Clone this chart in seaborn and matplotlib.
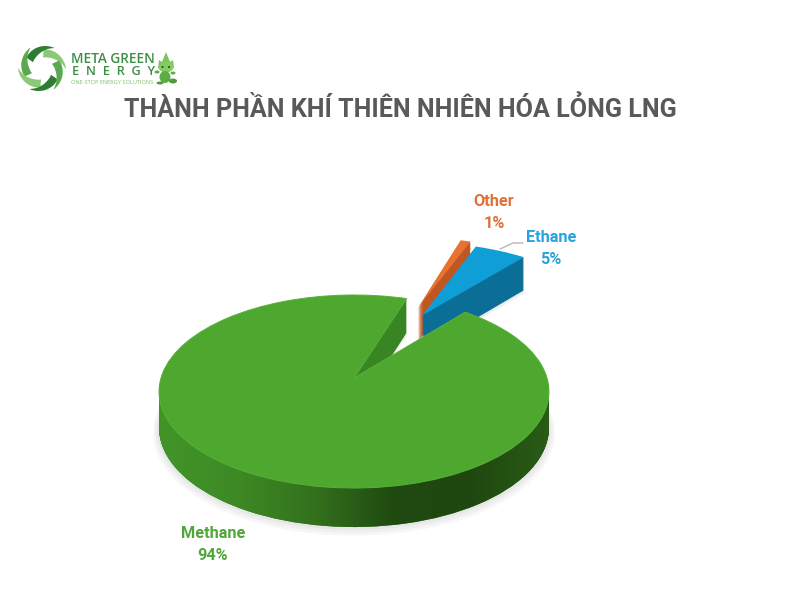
import numpy as np
import matplotlib
matplotlib.use('Agg')
import matplotlib.pyplot as plt
from matplotlib.colors import LinearSegmentedColormap
from matplotlib.patches import Ellipse, Polygon
from matplotlib.path import Path
from matplotlib.transforms import Transform
import seaborn as sns

categories = ['Methane', 'Ethane', 'Other']
shares = [94, 5, 1]
slice_labels = ['94%', '5%', '1%']
title = 'THÀNH PHẦN KHÍ THIÊN NHIÊN HÓA LỎNG LNG'

top_colors = sns.color_palette(['#4ea72e', '#0f9ed5', '#e97132'])
side_colors = sns.color_palette(['#3a8523', '#0b6e96', '#bf5723'])
label_colors = ['#4fa63a', '#2aa3dc', '#e0703a']
rim_colors = ['#429429', '#3d8a25', '#33701c', '#1f4a10', '#1f4810', '#2a5c16']

# the pie is turned a bit so the gap of the small slices sits top right
START_ANGLE = 72
# how far every slice is pulled out of the pie, in radii (x, y)
SLICE_SHIFT = [(0, 0), (0.39, 0.73), (0.37, 0.83)]
# pulled out slices look a bit bigger in the original
SLICE_GROW = [1.0, 1.07, 1.05]
DEPTH_LAYERS = 40


class PiePerspective(Transform):
    """Unit circle pie -> tilted disc in pixel coordinates, drop=1 is the bottom side."""
    input_dims = 2
    output_dims = 2

    def __init__(self, drop=0.0, shift=(0, 0), grow=1.0):
        super().__init__()
        self.drop = drop
        self.shift = shift
        self.grow = grow

    def transform_non_affine(self, values):
        u = values[:, 0] * self.grow + self.shift[0]
        v = values[:, 1] * self.grow + self.shift[1]
        w = 1 + 0.14 * v
        x = 354 + 193 * u / w
        y = (378 - 41.7 * v) / w
        y = y + self.drop * (33 + 0.026 * (y - 257))
        return np.column_stack([x, y])


def draw_layer(ax, colors, drop, only=None, zorder=2, grow=1.0, alpha=None, edge=None):
    # seaborn styles force a white patch edge, that would wipe out the stacked layers
    wedges, _ = ax.pie(shares, colors=colors, startangle=START_ANGLE, counterclock=True,
                       wedgeprops={'linewidth': 0, 'edgecolor': 'none'})
    for i, wedge in enumerate(wedges):
        if only is not None and i not in only:
            wedge.remove()
            continue
        transform = PiePerspective(drop, SLICE_SHIFT[i], grow * SLICE_GROW[i])
        wedge.set_transform(transform + ax.transData)
        wedge.set_clip_on(False)
        wedge.set_zorder(zorder)
        if alpha is not None:
            wedge.set_alpha(alpha)
        if edge is not None:
            wedge.set_edgecolor(edge)
            wedge.set_linewidth(0.7)
    return wedges


def draw_logo(ax):
    # swirl of six blades
    cx, cy = 42, 68.5
    blade_colors = ['#8cc976', '#2f7d32', '#5aa850', '#8cc976', '#2f7d32', '#5aa850']
    for k, color in enumerate(blade_colors):
        a = -np.radians(np.linspace(0, 85, 30)) - k * np.pi / 3
        outer = np.linspace(24, 19, 30)
        inner = np.linspace(23.5, 11, 30) - np.sin(np.linspace(0, np.pi, 30)) * 2.5
        xs = np.concatenate([cx + outer * np.cos(a), (cx + inner * np.cos(a))[::-1]])
        ys = np.concatenate([cy + outer * np.sin(a), (cy + inner * np.sin(a))[::-1]])
        ax.add_patch(Polygon(np.column_stack([xs, ys]), color=color, lw=0, zorder=5))
    ax.text(71, 59, 'META GREEN', fontsize=9.8, color='#3d8f45', family='Open Sans',
            weight='semibold', va='center', ha='left', zorder=5)
    ax.text(72, 71.5, 'E  N  E  R  G  Y', fontsize=9.2, color='#3d8f45', family='Open Sans',
            weight='semibold', va='center', ha='left', zorder=5)
    ax.text(71, 82, 'ONE-STOP ENERGY SOLUTIONS', fontsize=4.1, color='#7fbf6a', family='Open Sans',
            va='center', ha='left', zorder=5)
    # little dragon
    ax.add_patch(Polygon([(158, 68), (159, 60), (162, 62), (166, 52), (170, 62), (173, 60), (174, 68)],
                         color='#7cc35c', lw=0, zorder=5))
    for x, y, w, h, color in [(166, 67, 15, 11, '#86cc66'), (165, 77, 11, 12, '#5eab45'),
                              (173, 81, 8, 5, '#4f9c3c'), (160, 83, 7, 3, '#4f9c3c'),
                              (157, 72, 5, 3, '#5eab45'), (173, 73, 5, 3, '#5eab45')]:
        ax.add_patch(Ellipse((x, y), w, h, color=color, lw=0, zorder=5))
    ax.add_patch(Ellipse((162.5, 67), 2, 2, color='#1f4a10', lw=0, zorder=6))
    ax.add_patch(Ellipse((169, 67), 2, 2, color='#1f4a10', lw=0, zorder=6))


def main() -> None:
    sns.set_theme(style='white')
    plt.rcParams['font.family'] = ['Roboto', 'DejaVu Sans']

    fig = plt.figure(figsize=(8, 6), dpi=100)
    ax = fig.add_axes([0, 0, 1, 1])

    # soft shadow on the floor
    for grow, drop in [(1.03, 1.12), (1.02, 1.08), (1.01, 1.04)]:
        draw_layer(ax, ['#000000'] * 3, drop, only=[0, 1], zorder=1, grow=grow, alpha=0.03)

    # the sides: the slices stacked from the bottom up, far slices first
    base = 2
    for i in [2, 1, 0]:
        for k in range(DEPTH_LAYERS, 0, -1):
            draw_layer(ax, side_colors, k / DEPTH_LAYERS, only=[i], zorder=base + 3 * (2 - i))
        if i == 0:
            # rim shading of the big slice, left to right
            rim = []
            for k in range(DEPTH_LAYERS + 1):
                probe = draw_layer(ax, side_colors, k / DEPTH_LAYERS, only=[0], zorder=0)[0]
                rim.append(probe.get_path().transformed(probe.get_patch_transform()).transformed(
                    PiePerspective(k / DEPTH_LAYERS, SLICE_SHIFT[0])))
                probe.remove()
            cmap = LinearSegmentedColormap.from_list('rim', rim_colors)
            image = ax.imshow(np.linspace(0, 1, 256)[None, :], cmap=cmap, aspect='auto',
                              extent=[159, 550, 540, 392], zorder=base + 3 * (2 - i) + 0.5)
            image.set_clip_path(Path.make_compound_path(*rim), ax.transData)
        draw_layer(ax, top_colors, 0, only=[i], zorder=base + 3 * (2 - i) + 1,
                   edge='#58b236' if i == 0 else None)

    ax.set_aspect('auto')
    ax.set_xlim(0, 800)
    ax.set_ylim(600, 0)
    ax.axis('off')

    ax.text(400, 109, title, fontsize=18.1, weight='bold', color='#595959',
            ha='center', va='center', zorder=10)

    label_spots = [(213, 533, 555), (551, 238, 259), (494, 202, 224)]
    for name, share, color, (x, y1, y2) in zip(categories, slice_labels, label_colors, label_spots):
        ax.text(x, y1, name, fontsize=11.7, weight='bold', color=color, ha='center', va='center', zorder=10)
        ax.text(x, y2, share, fontsize=11.7, weight='bold', color=color, ha='center', va='center', zorder=10)
    ax.plot([500, 513, 523], [249, 243, 243], color='#b8b8b8', lw=1, zorder=1.5)

    draw_logo(ax)

    plt.savefig('out.png', dpi=100)


if __name__ == '__main__':
    main()
